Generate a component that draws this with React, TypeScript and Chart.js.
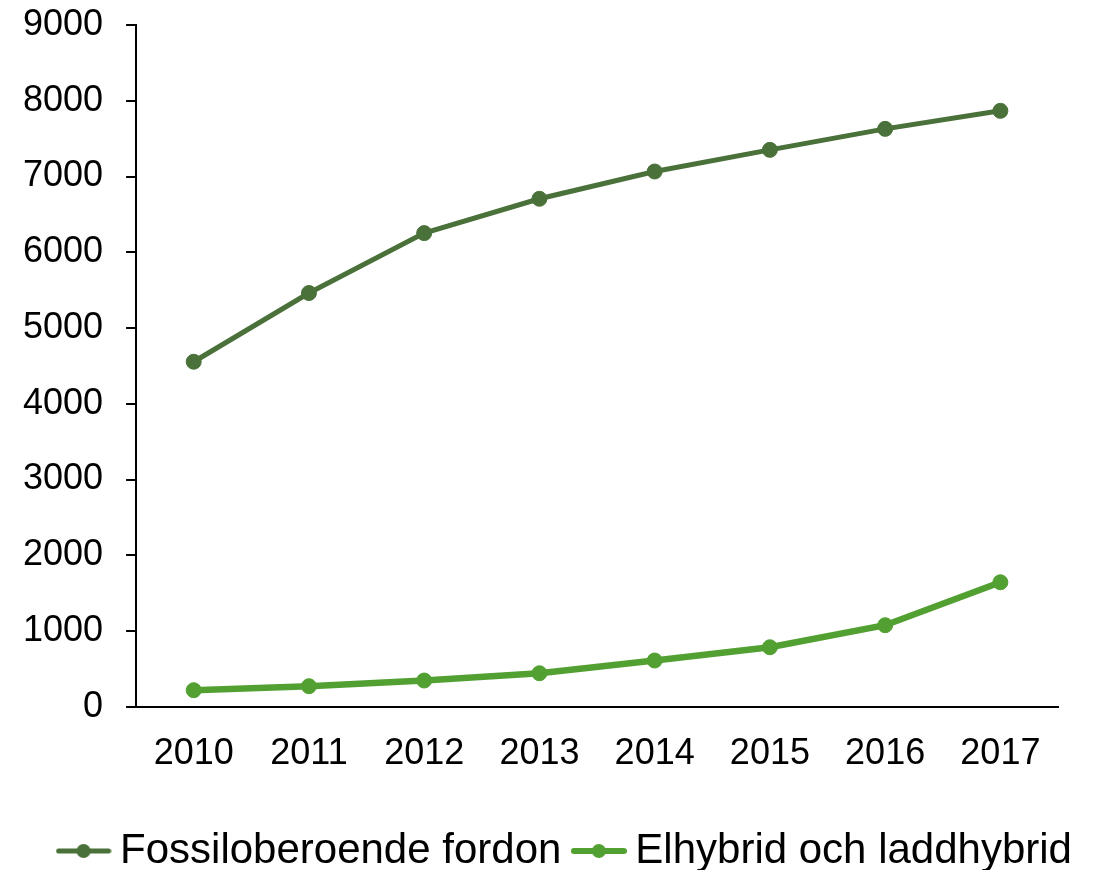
import React, { useEffect, useRef } from "react";
import { Chart, registerables } from "chart.js";

Chart.register(...registerables);

const years = ["2010", "2011", "2012", "2013", "2014", "2015", "2016", "2017"];
const fossil = [4555, 5462, 6253, 6706, 7066, 7352, 7629, 7867];
const hybrid = [219, 272, 347, 443, 611, 786, 1077, 1644];
const seriesNames = ["Fossiloberoende fordon", "Elhybrid och laddhybrid"];
const yTicks = [0, 1000, 2000, 3000, 4000, 5000, 6000, 7000, 8000, 9000];

const FOSSIL_COLOR = "#4A7139";
const HYBRID_COLOR = "#52A032";
const FONT = "'Liberation Sans', Arial, sans-serif";

function legendIcon(color: string, lineWidth: number, radius: number) {
  const c = document.createElement("canvas");
  c.width = 56;
  c.height = 20;
  const ctx = c.getContext("2d")!;
  ctx.strokeStyle = color;
  ctx.lineWidth = lineWidth;
  ctx.lineCap = "round";
  ctx.beginPath();
  ctx.moveTo(3, 10);
  ctx.lineTo(53, 10);
  ctx.stroke();
  ctx.fillStyle = color;
  ctx.beginPath();
  ctx.arc(28, 10, radius, 0, Math.PI * 2);
  ctx.fill();
  return c;
}

const shiftLegend = {
  id: "shiftLegend",
  afterLayout(chart: any) {
    const lg = chart.legend;
    if (!lg) return;
    const dx = 41;
    const dy = 16;
    lg.left += dx;
    lg.right += dx;
    lg.top += dy;
    lg.bottom += dy;
  },
};

export default function App() {
  const ref = useRef<HTMLCanvasElement>(null);
  useEffect(() => {
    if (!ref.current) return;
    const icons = [legendIcon(FOSSIL_COLOR, 5, 7), legendIcon(HYBRID_COLOR, 6, 7)];
    const chart = new Chart(ref.current, {
      type: "line",
      data: {
        labels: years,
        datasets: [
          {
            label: seriesNames[0],
            data: fossil,
            borderColor: FOSSIL_COLOR,
            backgroundColor: FOSSIL_COLOR,
            borderWidth: 5,
            pointRadius: 7.5,
            pointBorderWidth: 1,
            pointBackgroundColor: FOSSIL_COLOR,
            pointBorderColor: FOSSIL_COLOR,
            tension: 0,
          },
          {
            label: seriesNames[1],
            data: hybrid,
            borderColor: HYBRID_COLOR,
            backgroundColor: HYBRID_COLOR,
            borderWidth: 6.5,
            pointRadius: 7.5,
            pointBorderWidth: 1,
            pointBackgroundColor: HYBRID_COLOR,
            pointBorderColor: HYBRID_COLOR,
            tension: 0,
          },
        ],
      },
      plugins: [shiftLegend],
      options: {
        animation: false,
        responsive: true,
        maintainAspectRatio: false,
        layout: { padding: { top: 25, left: 0, right: 35, bottom: 4 } },
        scales: {
          x: {
            offset: true,
            grid: { display: true, drawOnChartArea: false, drawTicks: false },
            border: { display: true, color: "#000", width: 2 },
            ticks: {
              color: "#000",
              padding: 26,
              font: { family: FONT, size: 36 },
            },
            afterFit: (axis: any) => {
              axis.height -= 10;
            },
          },
          y: {
            min: 0,
            max: 9000,
            afterBuildTicks: (axis: any) => {
              axis.ticks = yTicks.map((v) => ({ value: v }));
            },
            afterFit: (axis: any) => {
              axis.paddingTop = 0;
              axis.paddingBottom = 0;
            },
            grid: { drawOnChartArea: false, drawTicks: true, tickLength: 10, color: "#000", lineWidth: 2 },
            border: { display: true, color: "#000", width: 2 },
            ticks: {
              color: "#000",
              padding: 23,
              font: { family: FONT, size: 36 },
              callback: (v: any) => String(v),
            },
          },
        },
        plugins: {
          tooltip: { enabled: false },
          legend: {
            position: "bottom",
            labels: {
              color: "#000",
              usePointStyle: true,
              pointStyleWidth: 31,
              padding: 22,
              font: { family: FONT, size: 42 },
              generateLabels: (ch: any) =>
                ch.data.datasets.map((ds: any, i: number) => ({
                  text: ds.label,
                  fillStyle: ds.borderColor,
                  strokeStyle: ds.borderColor,
                  lineWidth: 0,
                  pointStyle: icons[i],
                  hidden: false,
                  datasetIndex: i,
                  fontColor: "#000",
                })),
            },
          },
        },
      },
    });
    return () => chart.destroy();
  }, []);
  return (
    <div style={{ position: "fixed", left: 0, top: 0, width: 1093, height: 870, background: "#fff" }}>
      <canvas ref={ref} />
    </div>
  );
}
